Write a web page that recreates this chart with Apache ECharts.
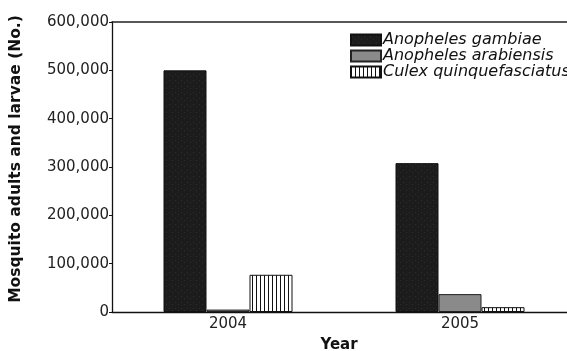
<!DOCTYPE html>
<html>
<head>
<meta charset="utf-8">
<script src="https://cdn.jsdelivr.net/npm/echarts@6/dist/echarts.min.js"></script>
<style>
  html, body { margin: 0; padding: 0; background: #fff; }
  #chart { width: 567px; height: 351px; }
</style>
</head>
<body>
<div id="chart"></div>
<script>
// 数据
const years = ['2004', '2005'];
const gambiae = [500000, 308000];
const arabiensis = [5000, 37000];
const culex = [77000, 10000];
const yTicks = [0, 100000, 200000, 300000, 400000, 500000, 600000];

// 竖条纹填充
function stripes() {
    let c = document.createElement('canvas');
    c.width = 4; c.height = 4;
    let ctx = c.getContext('2d');
    ctx.fillStyle = '#fff';
    ctx.fillRect(0, 0, 4, 4);
    ctx.fillStyle = '#111';
    ctx.fillRect(0, 0, 1, 4);
    return c;
}
// 深色杂点填充
function speckle() {
    let c = document.createElement('canvas');
    c.width = 6; c.height = 6;
    let ctx = c.getContext('2d');
    ctx.fillStyle = '#1c1c1c';
    ctx.fillRect(0, 0, 6, 6);
    ctx.fillStyle = '#2e2e2e';
    ctx.fillRect(1, 2, 1, 1);
    ctx.fillRect(4, 4, 1, 1);
    return c;
}

let myChart = echarts.init(document.getElementById('chart'));
let font = 'DejaVu Sans, sans-serif';
let option = {
    animation: false,
    grid: { left: 112, top: 22, width: 464, bottom: 39, outerBoundsMode: 'none' },
    legend: {
        left: 350, top: 32, orient: 'vertical', padding: 0,
        icon: 'rect',
        itemWidth: 30, itemHeight: 11, itemGap: 0,
        textStyle: { fontFamily: font, fontStyle: 'italic', fontSize: 16, lineHeight: 15, color: '#111', padding: [0, 0, 0, -3] },
        data: ['Anopheles gambiae', 'Anopheles arabiensis', 'Culex quinquefasciatus']
    },
    xAxis: [{
        type: 'category',
        data: years,
        name: 'Year',
        nameLocation: 'middle',
        nameGap: 26,
        nameTextStyle: { fontFamily: font, fontWeight: 'bold', fontSize: 15, color: '#111', padding: [0, 0, 0, -10] },
        axisLine: { lineStyle: { color: '#111', width: 1.3 } },
        axisTick: { inside: true, length: 4, lineStyle: { color: '#111' } },
        axisLabel: { fontFamily: font, fontSize: 15, color: '#222', margin: 5 }
    }, {
        type: 'category',
        data: years,
        position: 'top',
        axisLine: { lineStyle: { color: '#222', width: 1.6 } },
        axisTick: { show: false },
        axisLabel: { show: false }
    }],
    yAxis: {
        type: 'value',
        min: yTicks[0],
        max: yTicks[yTicks.length - 1],
        interval: 100000,
        name: 'Mosquito adults and larvae (No.)',
        nameLocation: 'middle',
        nameGap: 88,
        nameTextStyle: { fontFamily: font, fontWeight: 'bold', fontSize: 15.5, color: '#111', padding: [0, 0, 0, 16] },
        axisLine: { show: true, lineStyle: { color: '#111', width: 1.3 } },
        axisTick: { show: true, length: 3, lineStyle: { color: '#111' } },
        splitLine: { show: false },
        axisLabel: {
            fontFamily: font, fontSize: 15, color: '#222', margin: 3,
            formatter: v => v.toLocaleString('en-US')
        }
    },
    series: [
        {
            name: 'Anopheles gambiae', type: 'bar', data: gambiae,
            barWidth: 43, barGap: '0%',
            itemStyle: { color: { image: speckle(), repeat: 'repeat' }, borderColor: '#111', borderWidth: 1 }
        },
        {
            name: 'Anopheles arabiensis', type: 'bar', data: arabiensis,
            barWidth: 43, barGap: '0%',
            itemStyle: { color: '#8a8a8a', borderColor: '#222', borderWidth: 1 }
        },
        {
            name: 'Culex quinquefasciatus', type: 'bar', data: culex,
            barWidth: 43, barGap: '0%',
            itemStyle: { color: { image: stripes(), repeat: 'repeat' }, borderColor: '#111', borderWidth: 1 }
        }
    ]
};
myChart.setOption(option);
</script>
</body>
</html>
